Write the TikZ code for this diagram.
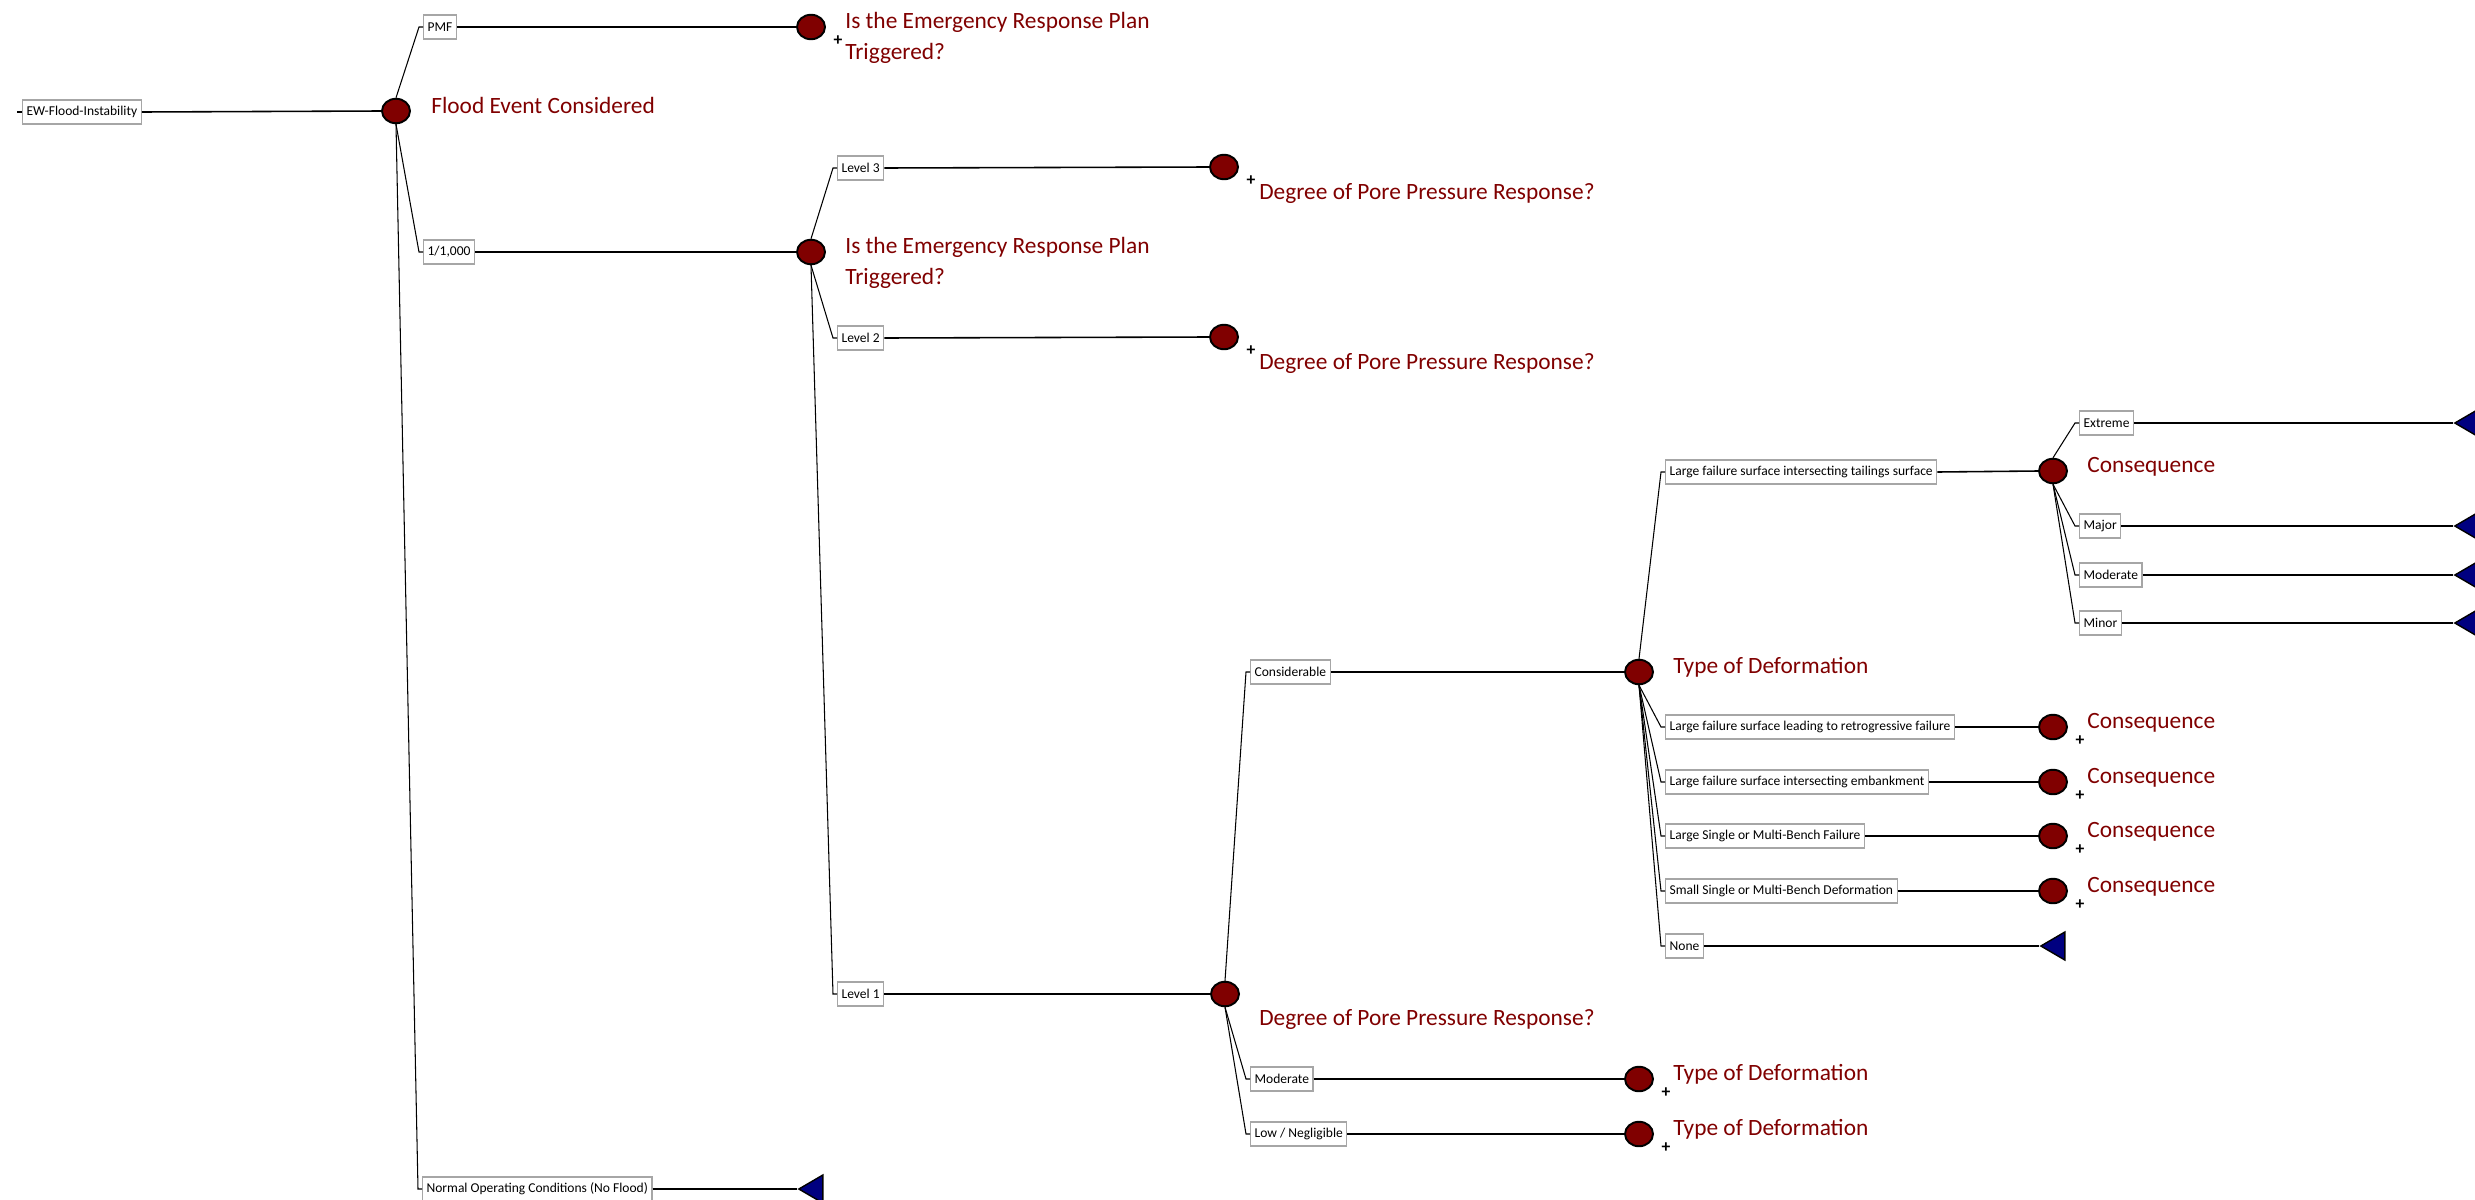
\documentclass[tikz,border=0pt]{standalone}
\usepackage{fontspec}
\setmainfont{Carlito}
\usepackage{xcolor}
\usetikzlibrary{shapes.geometric,calc}

\definecolor{chancered}{RGB}{128,0,0}
\definecolor{endblue}{RGB}{0,0,128}

\begin{document}
\begin{tikzpicture}[
    x=0.02cm, y=-0.02cm,
    box/.style={draw=gray!70, line width=0.7pt, fill=white, anchor=west, inner xsep=0.08cm, inner ysep=0pt, minimum height=0.48cm, font=\fontsize{7.7}{9}\selectfont},
    chance/.style={ellipse, draw, line width=1.1pt, fill=chancered, minimum width=0.56cm, minimum height=0.49cm, inner sep=0pt},
    endnode/.style={isosceles triangle, isosceles triangle stretches, shape border rotate=180, draw, line width=0.8pt, fill=endblue, minimum width=0.56cm, minimum height=0.48cm, inner sep=0pt, anchor=apex},
    question/.style={text=chancered, anchor=base west, align=left, inner sep=0pt, font=\fontsize{13.3}{17.6}\selectfont},
    plus/.style={inner sep=0pt, font=\bfseries\fontsize{10}{10}\selectfont},
    stem/.style={line width=0.9pt},
    branch/.style={line width=0.6pt}
]
\useasboundingbox (0,0) rectangle (2475,1200);
\clip (0,0) rectangle (2475,1200);

% Nodes
\coordinate (rootin) at (17,112);
\node[box] (ew) at (22,112) {EW-Flood-Instability};
\node[chance] (flood) at (396,111) {};
\node[question] (floodl) at ($(flood)+(35,2)$) {Flood Event Considered};

\node[box] (pmf) at (423,27) {PMF};
\node[chance] (pmfq) at (811,27) {};
\node[plus] (pmfp) at ($(pmfq)+(27,14)$) {+};
% two-line labels sit on the baseline of their last line
\node[question] (pmfl) at ($(pmfq)+(34,32)$) {Is the Emergency Response Plan\\Triggered?};

\node[box] (k1000) at (423,252) {1/1,000};
\node[chance] (k1000q) at (811,252) {};
\node[question] (k1000l) at ($(k1000q)+(34,32)$) {Is the Emergency Response Plan\\Triggered?};

\node[box] (nofl) at (422,1189) {Normal Operating Conditions (No Flood)};
\node[endnode] (noflt) at (797,1189) {};

\node[box] (lv3) at (837,168) {Level 3};
\node[chance] (lv3q) at (1224,167) {};
\node[plus] (lv3p) at ($(lv3q)+(27,14)$) {+};
\node[question] (lv3l) at ($(lv3q)+(35,32)$) {Degree of Pore Pressure Response?};

\node[box] (lv2) at (837,338) {Level 2};
\node[chance] (lv2q) at (1224,337) {};
\node[plus] (lv2p) at ($(lv2q)+(27,14)$) {+};
\node[question] (lv2l) at ($(lv2q)+(35,32)$) {Degree of Pore Pressure Response?};

\node[box] (lv1) at (837,994) {Level 1};
\node[chance] (lv1q) at (1225,994) {};
\node[question] (lv1l) at ($(lv1q)+(34,31)$) {Degree of Pore Pressure Response?};

\node[box] (cons) at (1250,672) {Considerable};
\node[chance] (tod) at (1639,672) {};
\node[question] (todl) at ($(tod)+(34,1)$) {Type of Deformation};

\node[box] (modr) at (1250,1079) {Moderate};
\node[chance] (modq) at (1639,1079) {};
\node[plus] (modp) at ($(modq)+(27,14)$) {+};
\node[question] (modl) at ($(modq)+(34,1)$) {Type of Deformation};

\node[box] (lown) at (1250,1134) {Low / Negligible};
\node[chance] (lowq) at (1639,1134) {};
\node[plus] (lowp) at ($(lowq)+(27,14)$) {+};
\node[question] (lowl) at ($(lowq)+(34,1)$) {Type of Deformation};

\node[box] (lfts) at (1665,472) {Large failure surface intersecting tailings surface};
\node[chance] (csq) at (2053,471) {};
\node[question] (csql) at ($(csq)+(34,1)$) {Consequence};

\node[box] (ext) at (2079,423) {Extreme};
\node[endnode] (extt) at (2453,423) {};
\node[box] (maj) at (2079,526) {Major};
\node[endnode] (majt) at (2453,526) {};
\node[box] (mod) at (2079,575) {Moderate};
\node[endnode] (modt) at (2453,575) {};
\node[box] (min) at (2079,623) {Minor};
\node[endnode] (mint) at (2453,623) {};

\node[box] (lfrf) at (1665,727) {Large failure surface leading to retrogressive failure};
\node[box] (lfie) at (1665,782) {Large failure surface intersecting embankment};
\node[box] (lsmb) at (1665,836) {Large Single or Multi-Bench Failure};
\node[box] (ssmb) at (1665,891) {Small Single or Multi-Bench Deformation};
\foreach \n/\y in {lfrf/727, lfie/782, lsmb/836, ssmb/891} {
    \node[chance] (\n q) at (2053,\y) {};
    \node[plus] (\n p) at ($(\n q)+(27,14)$) {+};
    \node[question] (\n l) at ($(\n q)+(34,1)$) {Consequence};
}
\node[box] (none) at (1665,946) {None};
\node[endnode] (nonet) at (2039,946) {};

% Branches out of the chance nodes
\draw[branch] (rootin) -- (ew.west);
\foreach \a/\b in {flood.north/pmf, flood.south/k1000, flood.south/nofl,
                   k1000q.north/lv3, k1000q.south/lv2, k1000q.south/lv1,
                   lv1q.north/cons, lv1q.south/modr, lv1q.south/lown,
                   tod.north/lfts, tod.south/lfrf, tod.south/lfie, tod.south/lsmb, tod.south/ssmb, tod.south/none,
                   csq.north/ext, csq.south/maj, csq.south/mod, csq.south/min}
    \draw[branch] (\a) -- ($(\b.west)+(-4,0)$) -- (\b.west);

% Lines from each box to the next node
\draw[stem] (ew.east) -- (flood.west);
\foreach \a/\b in {pmf/pmfq, k1000/k1000q, lv3/lv3q, lv2/lv2q, lv1/lv1q,
                   cons/tod, modr/modq, lown/lowq, lfts/csq,
                   lfrf/lfrfq, lfie/lfieq, lsmb/lsmbq, ssmb/ssmbq}
    \draw[stem] (\a.east) -- (\b.west);
\foreach \a/\b in {nofl/noflt, none/nonet, ext/extt, maj/majt, mod/modt, min/mint}
    \draw[stem] (\a.east) -- (\b.apex);
\end{tikzpicture}
\end{document}
